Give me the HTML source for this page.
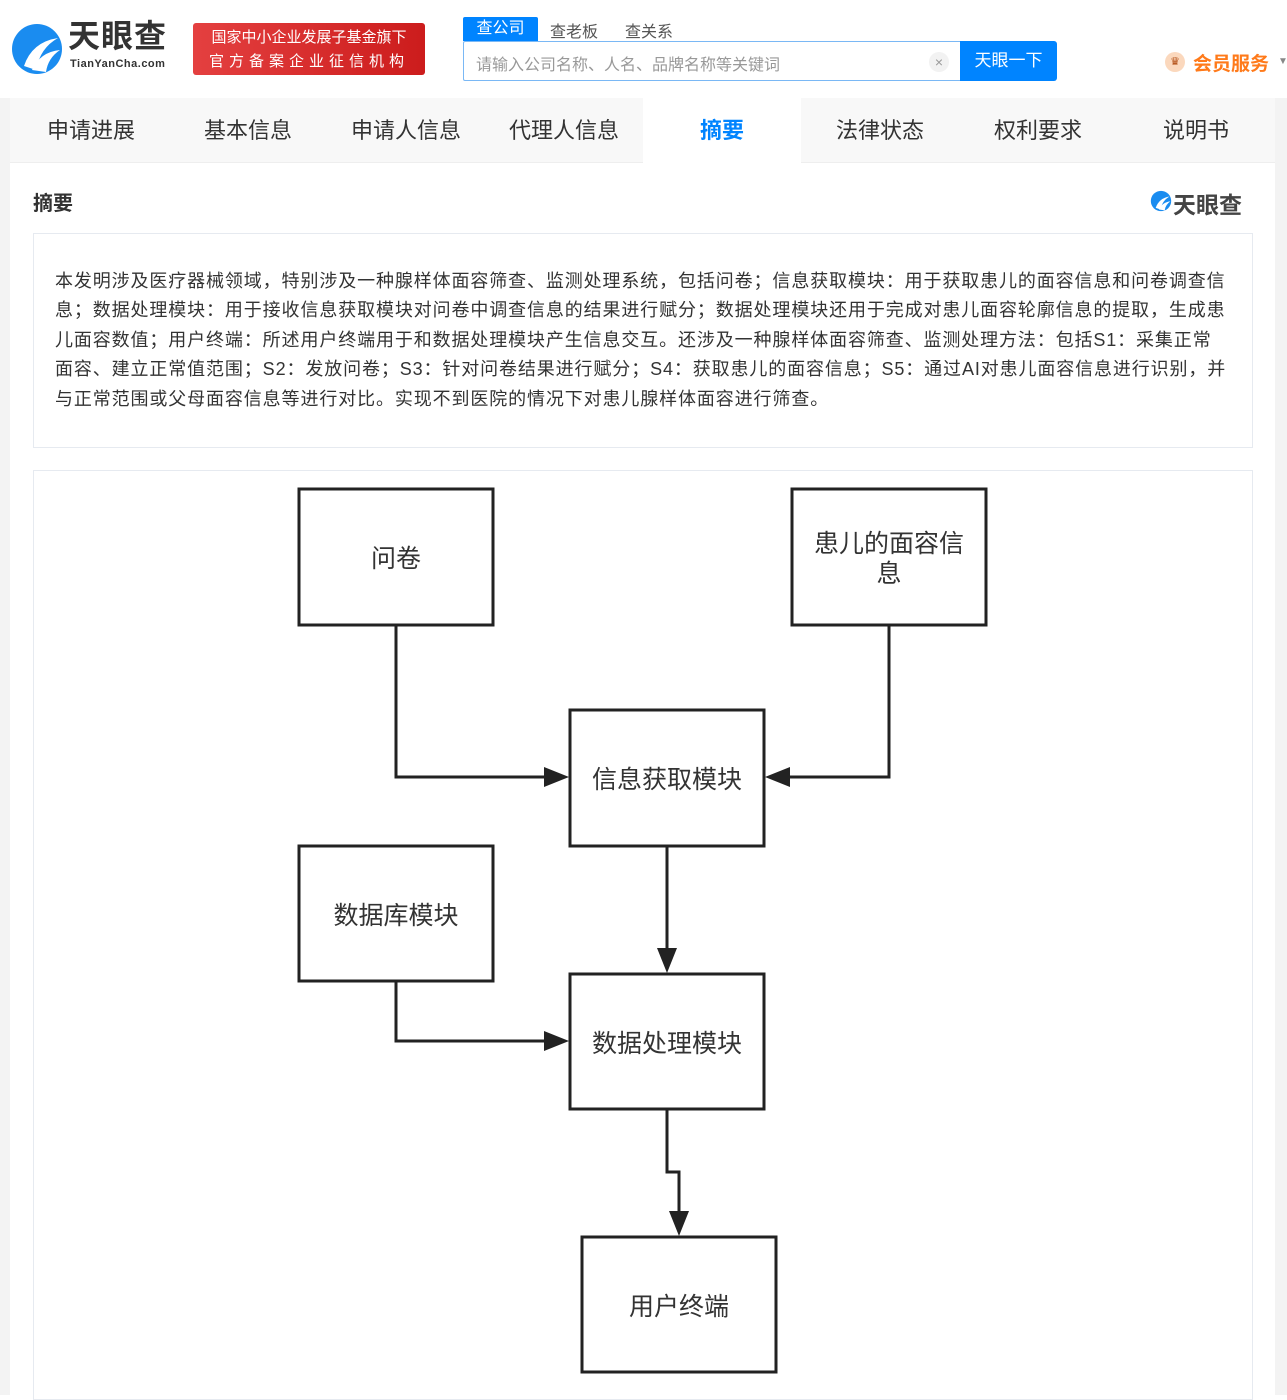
<!DOCTYPE html>
<html><head><meta charset="utf-8"><style>
*{margin:0;padding:0;box-sizing:border-box}
body{width:1287px;height:1395px;overflow:hidden;background:#fff;font-family:"Liberation Sans","Noto Sans CJK SC",sans-serif;color:#333;position:relative}
.abs{position:absolute}
.nav{top:98px;left:10px;width:1265px;height:65px;background:#f8f8f8;border-bottom:1px solid #eee}
.nav span{position:absolute;top:0;height:65px;line-height:65px;font-size:22px;color:#333;width:158px;text-align:center}
.para{left:33px;top:233px;width:1220px;height:215px;border:1px solid #e6eaf0}
.para div{position:absolute;left:21px;font-size:18px;color:#333;white-space:nowrap;line-height:20px;letter-spacing:0.88px}
</style></head><body>
<div class="abs" style="left:0;top:98px;width:10px;height:1297px;background:#f3f3f3"></div>
<div class="abs" style="left:1275px;top:98px;width:12px;height:1297px;background:#f3f3f3"></div>
<svg class="abs" style="left:10px;top:22px" width="54" height="54" viewBox="0 0 54 54"><circle cx="27" cy="27" r="25" fill="#1a8cf0"/><path d="M14 44 Q22 20 48 16 Q30 26 26 48Z" fill="#fff"/><path d="M22 48 Q30 30 50 28 Q38 36 36 50Z" fill="#fff"/></svg>
<div class="abs" style="left:68px;top:18px;font-size:32px;line-height:36px;font-weight:bold;color:#333;letter-spacing:1px">天眼查</div>
<div class="abs" style="left:70px;top:58px;font-size:11px;line-height:13px;font-weight:bold;color:#333;letter-spacing:0.5px">TianYanCha.com</div>
<div class="abs" style="left:193px;top:23px;width:232px;height:52px;background:linear-gradient(90deg,#e44040,#cc1c1c);border-radius:3px;color:#fff;font-size:15px;text-align:center;line-height:24px;padding-top:3px">国家中小企业发展子基金旗下<br><span style="letter-spacing:5px">官方备案企业征信机构</span></div>
<div class="abs" style="left:463px;top:17px;width:75px;height:24px;background:#0084ff;color:#fff;font-size:16px;text-align:center;line-height:24px;border-radius:2px 2px 0 0">查公司</div>
<div class="abs" style="left:550px;top:18px;font-size:16px;color:#555">查老板</div>
<div class="abs" style="left:625px;top:18px;font-size:16px;color:#555">查关系</div>
<div class="abs" style="left:463px;top:41px;width:500px;height:40px;border:1px solid #7ab8f5;border-right:none;border-radius:2px 0 0 2px"></div>
<div class="abs" style="left:476px;top:51px;font-size:16px;color:#999">请输入公司名称、人名、品牌名称等关键词</div>
<div class="abs" style="left:929px;top:52px;width:20px;height:20px;border-radius:50%;background:#f2f2f2;color:#999;font-size:14px;text-align:center;line-height:20px">×</div>
<div class="abs" style="left:960px;top:41px;width:97px;height:40px;background:#0084ff;color:#fff;font-size:17px;text-align:center;line-height:40px;border-radius:0 3px 3px 0">天眼一下</div>
<div class="abs" style="left:1165px;top:52px;width:20px;height:20px;border-radius:50%;background:#fbd8bd;color:#b04a10;font-size:11px;text-align:center;line-height:20px">♛</div>
<div class="abs" style="left:1193px;top:49px;font-size:19px;font-weight:bold;color:#ff7a1a">会员服务</div>
<div class="abs" style="left:1278px;top:56px;font-size:10px;color:#888">▼</div>
<div class="abs nav">
<span style="left:2px">申请进展</span><span style="left:159px">基本信息</span><span style="left:317px">申请人信息</span><span style="left:475px">代理人信息</span>
<span style="left:633px;background:#fff;color:#0084ff;font-weight:bold;height:66px">摘要</span>
<span style="left:791px">法律状态</span><span style="left:949px">权利要求</span><span style="left:1107px">说明书</span>
</div>
<div class="abs" style="left:33px;top:187px;font-size:20px;font-weight:bold;color:#333">摘要</div>
<svg class="abs" style="left:1150px;top:190px" width="22" height="22" viewBox="0 0 54 54"><circle cx="27" cy="27" r="25" fill="#1a8cf0"/><path d="M14 44 Q22 20 48 16 Q30 26 26 48Z" fill="#fff"/><path d="M22 48 Q30 30 50 28 Q38 36 36 50Z" fill="#fff"/></svg>
<div class="abs" style="left:1173px;top:186px;font-size:23px;font-weight:bold;color:#444">天眼查</div>
<div class="abs para">
<div style="top:37px">本发明涉及医疗器械领域，特别涉及一种腺样体面容筛查、监测处理系统，包括问卷；信息获取模块：用于获取患儿的面容信息和问卷调查信</div>
<div style="top:66px">息；数据处理模块：用于接收信息获取模块对问卷中调查信息的结果进行赋分；数据处理模块还用于完成对患儿面容轮廓信息的提取，生成患</div>
<div style="top:96px">儿面容数值；用户终端：所述用户终端用于和数据处理模块产生信息交互。还涉及一种腺样体面容筛查、监测处理方法：包括S1：采集正常</div>
<div style="top:125px">面容、建立正常值范围；S2：发放问卷；S3：针对问卷结果进行赋分；S4：获取患儿的面容信息；S5：通过AI对患儿面容信息进行识别，并</div>
<div style="top:155px">与正常范围或父母面容信息等进行对比。实现不到医院的情况下对患儿腺样体面容进行筛查。</div>
</div>
<div class="abs" style="left:33px;top:470px;width:1220px;height:930px;border:1px solid #e6eaf0"></div>
<svg class="abs" style="left:0;top:0" width="1287" height="1395">
<g fill="none" stroke="#222" stroke-width="3">
<rect x="299" y="489" width="194" height="136"/>
<rect x="792" y="489" width="194" height="136"/>
<rect x="570" y="710" width="194" height="136"/>
<rect x="299" y="846" width="194" height="135"/>
<rect x="570" y="974" width="194" height="135"/>
<rect x="582" y="1237" width="194" height="135"/>
<polyline points="396,625 396,777 548,777"/>
<polyline points="889,625 889,777 786,777"/>
<polyline points="667,846 667,952"/>
<polyline points="396,981 396,1041 548,1041"/>
<polyline points="667,1109 667,1172 679,1172 679,1215"/>
</g>
<g fill="#222">
<path d="M569,777 L544,767 L544,787Z"/>
<path d="M765,777 L790,767 L790,787Z"/>
<path d="M667,973 L657,948 L677,948Z"/>
<path d="M569,1041 L544,1031 L544,1051Z"/>
<path d="M679,1236 L669,1211 L689,1211Z"/>
</g>
<g font-size="25" fill="#333" text-anchor="middle" font-family="Liberation Sans,Noto Sans CJK SC,sans-serif">
<text x="396" y="567">问卷</text>
<text x="889" y="552">患儿的面容信</text><text x="889" y="582">息</text>
<text x="667" y="788">信息获取模块</text>
<text x="396" y="924">数据库模块</text>
<text x="667" y="1052">数据处理模块</text>
<text x="679" y="1315">用户终端</text>
</g>
</svg>
</body></html>
